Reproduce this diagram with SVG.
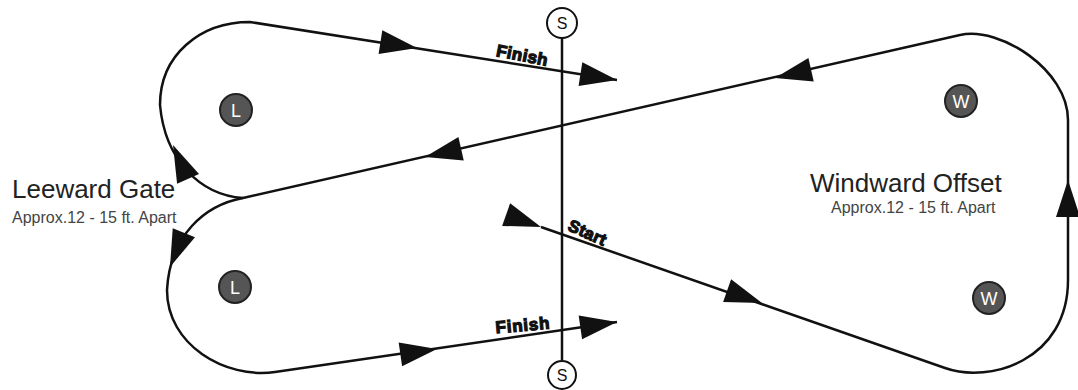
<svg xmlns="http://www.w3.org/2000/svg" xmlns:xlink="http://www.w3.org/1999/xlink" width="1078" height="390" viewBox="0 0 1078 390">
<style>
.course{fill:none;stroke:#111;stroke-width:2.5;stroke-linejoin:round}
.ah{fill:#111}
.mark circle{fill:#555;stroke:#222;stroke-width:2}
.mark text{fill:#fff;font-family:"Liberation Sans",Arial,sans-serif;font-size:18px;text-anchor:middle}
.buoy circle{fill:#fff;stroke:#111;stroke-width:2}
.buoy text{fill:#111;font-family:"Liberation Sans",Arial,sans-serif;font-size:16px;text-anchor:middle}
.title{fill:#222;font-family:"Liberation Sans",Arial,sans-serif;font-size:26px}
.sub{fill:#444;font-family:"Liberation Sans",Arial,sans-serif;font-size:16px}
.lbl{fill:#111;font-family:"Liberation Sans",Arial,sans-serif;font-size:17px;font-weight:bold;text-anchor:middle;stroke:#111;stroke-width:1.2}
</style>
<defs>
<path id="ah" d="M0,0 L-37,-12 L-37,12 Z"/>
</defs>
<rect width="1078" height="390" fill="#fff"/>
<g id="connectors">
<path class="course" d="M541,227 L945,368 C990,384 1068,360 1068,280 L1068,120 C1068,70 1000,26 960,35 L243,198"/>
<path class="course" d="M243,198 C200,195 165,160 160,105 C160,55 200,22 250,22 L617,80"/>
<path class="course" d="M243,198 C205,205 170,235 167,290 C167,345 225,379 275,372 L617,322"/>
<g class="ah">
<use xlink:href="#ah" transform="translate(541,227) rotate(19.5)"/>
<use xlink:href="#ah" transform="translate(762,303) rotate(19.5)"/>
<use xlink:href="#ah" transform="translate(1068,180) rotate(-90)"/>
<use xlink:href="#ah" transform="translate(775,78) rotate(167.2)"/>
<use xlink:href="#ah" transform="translate(425,157) rotate(167.2)"/>
<use xlink:href="#ah" transform="translate(173,145) rotate(-114)"/>
<use xlink:href="#ah" transform="translate(417,48) rotate(9)"/>
<use xlink:href="#ah" transform="translate(617,80) rotate(9)"/>
<use xlink:href="#ah" transform="translate(170,267) rotate(112)"/>
<use xlink:href="#ah" transform="translate(437,349) rotate(-8.3)"/>
<use xlink:href="#ah" transform="translate(617,322) rotate(-8.3)"/>
</g>
</g>
<g id="start-finish-line">
<line x1="562" y1="38" x2="562" y2="360" stroke="#111" stroke-width="2.5"/>
<g class="buoy" id="pin-top"><circle cx="562" cy="23" r="15"/><text x="562" y="29">S</text></g>
<g class="buoy" id="pin-bottom"><circle cx="562" cy="375" r="14"/><text x="562" y="381">S</text></g>
</g>
<g class="mark" id="mark-L1"><circle cx="236" cy="110" r="16"/><text x="236" y="117">L</text></g>
<g class="mark" id="mark-L2"><circle cx="235" cy="287" r="16"/><text x="235" y="294">L</text></g>
<g class="mark" id="mark-W1"><circle cx="961" cy="101" r="16"/><text x="961" y="108">W</text></g>
<g class="mark" id="mark-W2"><circle cx="989" cy="298" r="16"/><text x="989" y="305">W</text></g>
<g id="labels">
<text class="lbl" transform="translate(521,61) rotate(11)" textLength="52">Finish</text>
<text class="lbl" transform="translate(585,238) rotate(24)" textLength="40">Start</text>
<text class="lbl" transform="translate(523,331) rotate(-5)" textLength="54">Finish</text>
</g>
<g id="leeward-gate">
<text class="title" x="12" y="198">Leeward Gate</text>
<text class="sub" x="12" y="223">Approx.12 - 15 ft. Apart</text>
</g>
<g id="windward-offset">
<text class="title" x="810" y="192">Windward Offset</text>
<text class="sub" x="831" y="213">Approx.12 - 15 ft. Apart</text>
</g>
</svg>
